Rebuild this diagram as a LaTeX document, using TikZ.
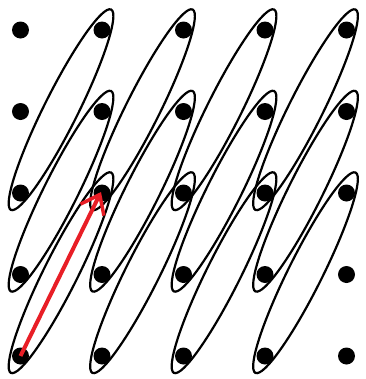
\documentclass[tikz,border=0pt]{standalone}
\usetikzlibrary{arrows.meta,calc}
\definecolor{arrowred}{RGB}{232,30,38}
\begin{document}
\begin{tikzpicture}[x=1bp,y=-1bp,
  dot/.style={circle,fill=black,inner sep=0pt,minimum size=17bp},
  loopline/.style={draw=black,line width=2.2bp},
  vec/.style={draw=arrowred,line width=4bp,-{Straight Barb[length=17bp,width=26bp,line width=3.5bp]}}]
\useasboundingbox (0,0) rectangle (366,379);
\foreach \i in {0,...,4}{
  \foreach \j in {0,...,4}{
    \node[dot] (d\i\j) at (20.5+81.5*\i, 30+81.5*\j) {};
  }
}
\foreach \i in {0,...,3}{
  \foreach \j in {2,...,4}{
    \pgfmathtruncatemacro{\ii}{\i+1}
    \pgfmathtruncatemacro{\jj}{\j-2}
    \path (d\i\j.center) -- (d\ii\jj.center) coordinate[pos=0.5] (m\i\j);
    \draw[loopline,rotate around={63.43:(m\i\j)}] ([shift={(1.5,-1)}]m\i\j) ellipse [x radius=112bp, y radius=17bp];
  }
}
\draw[vec] (d04.center) -- ([shift={(-1,-1)}]d12.center);
\end{tikzpicture}
\end{document}
